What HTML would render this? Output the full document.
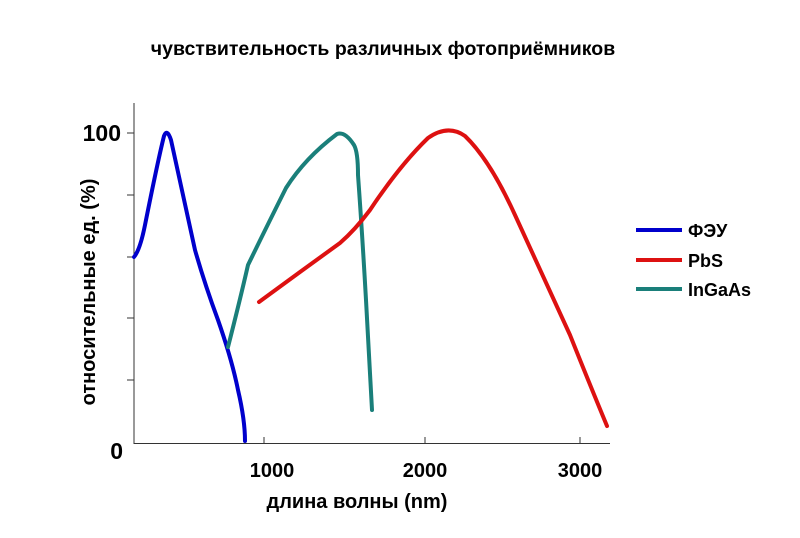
<!DOCTYPE html>
<html><head><meta charset="utf-8"><style>
body{margin:0;background:#fff}
svg text{font-family:"Liberation Sans","DejaVu Sans",sans-serif;font-weight:bold;fill:#000}
</style></head><body>
<svg width="800" height="533" viewBox="0 0 800 533" xmlns="http://www.w3.org/2000/svg">
<text x="383" y="55" font-size="19.5" text-anchor="middle">чувствительность различных фотоприёмников</text>
<g stroke="#333" stroke-width="1" fill="none">
<line x1="134" y1="103" x2="134" y2="444"/>
<line x1="134" y1="443.5" x2="610" y2="443.5"/>
<line x1="127" y1="133" x2="134" y2="133"/>
<line x1="127" y1="195" x2="134" y2="195"/>
<line x1="127" y1="257" x2="134" y2="257"/>
<line x1="127" y1="318" x2="134" y2="318"/>
<line x1="127" y1="380" x2="134" y2="380"/>
<line x1="264" y1="437" x2="264" y2="443"/>
<line x1="425" y1="437" x2="425" y2="443"/>
<line x1="580" y1="437" x2="580" y2="443"/>
</g>
<text x="121" y="141" font-size="23" text-anchor="end">100</text>
<text x="123" y="459" font-size="23" text-anchor="end">0</text>
<text x="272" y="477" font-size="20" text-anchor="middle">1000</text>
<text x="425" y="477" font-size="20" text-anchor="middle">2000</text>
<text x="580" y="477" font-size="20" text-anchor="middle">3000</text>
<text x="357" y="508" font-size="20" text-anchor="middle">длина волны (nm)</text>
<text transform="translate(95,292) rotate(-90)" font-size="20" text-anchor="middle">относительные ед. (%)</text>
<g fill="none" stroke-width="4" stroke-linecap="round" stroke-linejoin="round">
<path stroke="#0000cc" d="M134,257 Q140,250 145,225 Q158,160 164,136 Q167,128 171,140 Q185,205 195,250 Q205,285 218,320 Q232,360 238,390 Q245,420 245,441"/>
<path stroke="#1a7f7a" d="M228,347 Q240,300 248,265 Q265,230 286,188 Q305,158 337,134 Q345,131 354,145 Q358,152 358,175 Q362,230 366,300 Q370,370 372,410"/>
<path stroke="#dd1111" d="M259,302 L300,272 L340,243 Q355,230 370,210 Q400,165 428,138 Q448,124 465,136 Q490,160 515,215 Q545,280 570,335 Q590,385 607,426"/>
</g>
<g stroke-width="4">
<line x1="636" y1="230" x2="682" y2="230" stroke="#0000cc"/>
<line x1="636" y1="260" x2="682" y2="260" stroke="#dd1111"/>
<line x1="636" y1="289" x2="682" y2="289" stroke="#1a7f7a"/>
</g>
<text x="688" y="237" font-size="18">ФЭУ</text>
<text x="688" y="267" font-size="18">PbS</text>
<text x="688" y="296" font-size="18">InGaAs</text>
</svg>
</body></html>
